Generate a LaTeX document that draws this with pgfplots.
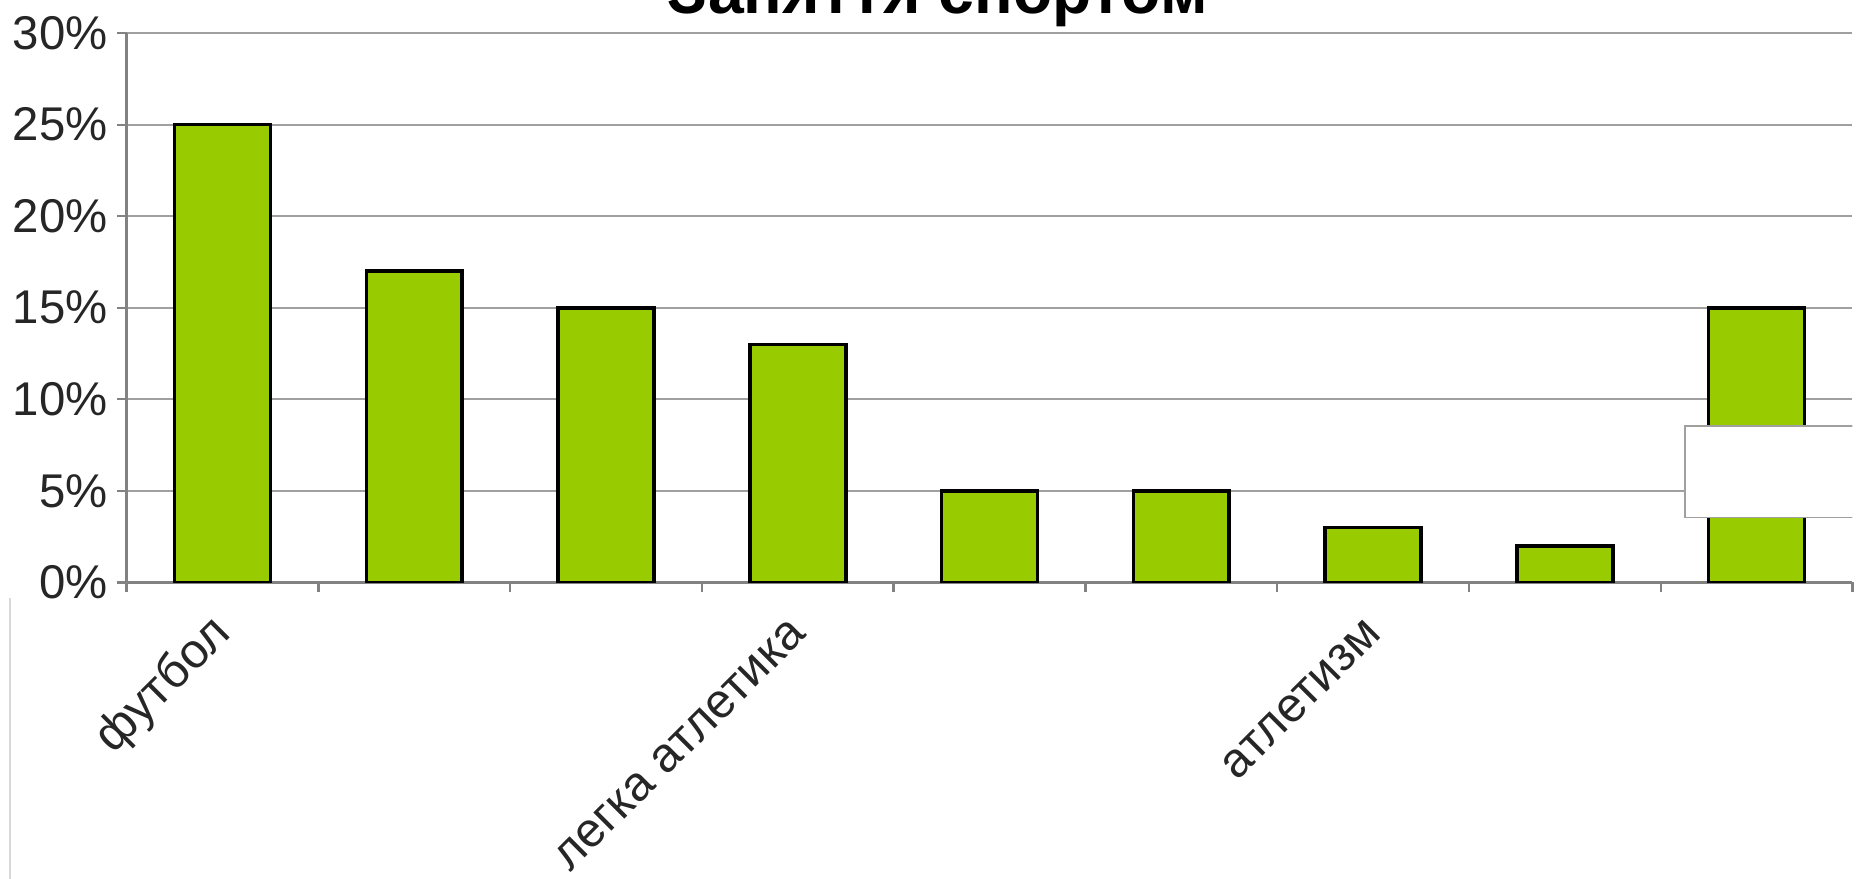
\documentclass[border=0pt]{standalone}
\usepackage{pgfplots}
\pgfplotsset{compat=1.18}
\usepackage{fontspec}
\setmainfont{Liberation Sans}
\definecolor{bargreen}{RGB}{153,204,0}
\definecolor{gridgray}{RGB}{160,160,160}
\definecolor{axisgray}{RGB}{130,130,130}

\begin{document}
\begin{tikzpicture}
\begin{axis}[
    width=437.4pt, height=139.2pt, scale only axis,
    ymin=0, ymax=30,
    xmin=-0.5, xmax=8.5,
    axis x line*=bottom, axis y line*=left,
    axis line style={axisgray, line width=0.6pt, -},
    ymajorgrids,
    grid style={gridgray, line width=0.6pt},
    tick align=outside,
    major tick length=2.5pt,
    tick style={axisgray, line width=0.6pt},
    ytick={0,5,...,30},
    yticklabels={0\%,5\%,10\%,15\%,20\%,25\%,30\%},
    yticklabel style={xshift=1.2pt},
    xtick={-0.5,0.5,...,8.5},
    xticklabels={},
    extra x ticks={0,3,6},
    extra x tick labels={футбол,легка атлетика,атлетизм},
    extra x tick style={major tick length=0pt, grid=none,
        tick label style={rotate=45, anchor=east, yshift=-8.1pt, xshift=-4.2pt,
            font=\fontsize{12.3}{14}\selectfont}},
    tick label style={font=\fontsize{12}{14}\selectfont, text=black!85},
    /pgf/number format/assume math mode=true,
    ybar, bar width=24.3pt,
    clip=true,
]
\addplot[ybar, fill=bargreen, draw=black, line width=0.9pt] coordinates {
    (0,25) (1,17) (2,15) (3,13) (4,5) (5,5) (6,3) (7,2) (8,15)
};
\draw[gridgray, line width=0.4pt, fill=white]
    (rel axis cs:0.903,0.1185) rectangle (rel axis cs:1.1,0.2845);
\coordinate (bl) at (rel axis cs:0,0);
\coordinate (tr) at (rel axis cs:1,1);
\coordinate (tt) at (rel axis cs:0.47,1);
\end{axis}
\node[anchor=base, yshift=5.1pt, font=\bfseries\fontsize{16.3}{18}\selectfont] at (tt) {Заняття спортом};
\draw[black!15, line width=0.5pt] ([xshift=-29.6pt, yshift=-4pt]bl) -- ([xshift=-29.6pt, yshift=-80pt]bl);
\pgfresetboundingbox
\path[use as bounding box] ([xshift=-32.1pt, yshift=-75pt]bl) rectangle ([xshift=0.9pt, yshift=8.4pt]tr);
\end{tikzpicture}
\end{document}
